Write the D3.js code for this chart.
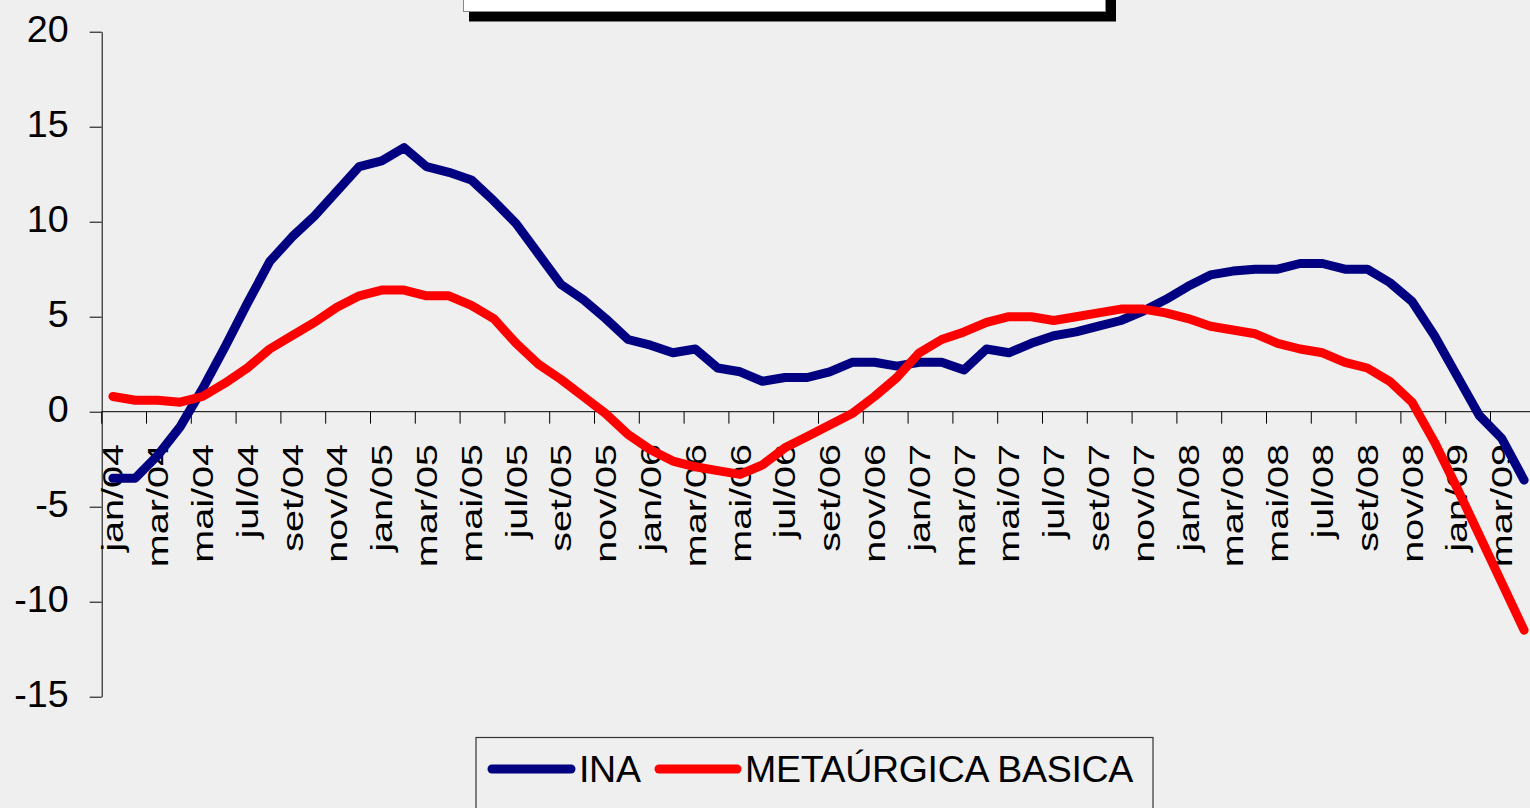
<!DOCTYPE html>
<html>
<head>
<meta charset="utf-8">
<script src="https://cdn.jsdelivr.net/npm/d3@7"></script>
<style>
  html, body { margin: 0; padding: 0; background: #efefef; overflow: hidden; }
  svg { display: block; }
  text { font-family: Arial, "Liberation Sans", sans-serif; fill: #000; }
</style>
</head>
<body>
<svg id="chart" width="1530" height="808"></svg>
<script>
const months = ["jan","fev","mar","abr","mai","jun","jul","ago","set","out","nov","dez"];
const years = ["04","05","06","07","08","09"];
const categories = [];
years.forEach(y => months.forEach(m => { categories.push(m + "/" + y); }));
categories.splice(64); // jan/04 .. abr/09

const ina = [
  -3.5, -3.5, -2.3, -0.8, 1.2, 3.4, 5.7, 7.9, 9.2, 10.3, 11.6, 12.9,
  13.2, 13.9, 12.9, 12.6, 12.2, 11.1, 9.9, 8.3, 6.7, 5.9, 4.9, 3.8,
  3.5, 3.1, 3.3, 2.3, 2.1, 1.6, 1.8, 1.8, 2.1, 2.6, 2.6, 2.4,
  2.6, 2.6, 2.2, 3.3, 3.1, 3.6, 4.0, 4.2, 4.5, 4.8, 5.3, 5.9,
  6.6, 7.2, 7.4, 7.5, 7.5, 7.8, 7.8, 7.5, 7.5, 6.8, 5.8, 4.0,
  1.9, -0.2, -1.4, -3.6
];
const metalurgica = [
  0.8, 0.6, 0.6, 0.5, 0.8, 1.5, 2.3, 3.3, 4.0, 4.7, 5.5, 6.1,
  6.4, 6.4, 6.1, 6.1, 5.6, 4.9, 3.6, 2.5, 1.7, 0.8, -0.1, -1.2,
  -2.0, -2.6, -2.9, -3.1, -3.3, -2.8, -1.9, -1.3, -0.7, -0.1, 0.8, 1.8,
  3.1, 3.8, 4.2, 4.7, 5.0, 5.0, 4.8, 5.0, 5.2, 5.4, 5.4, 5.2,
  4.9, 4.5, 4.3, 4.1, 3.6, 3.3, 3.1, 2.6, 2.3, 1.6, 0.5, -1.6,
  -4.0, -6.5, -9.0, -11.5
];
const yTicks = [-15, -10, -5, 0, 5, 10, 15, 20];
const seriesNames = ["INA", "METAÚRGICA BASICA"];
const seriesColors = ["#000080", "#ff0000"];

const svg = d3.select("#chart");

// background
svg.append("rect").attr("x", 0).attr("y", 0).attr("width", 1530).attr("height", 808).attr("fill", "#efefef");

// title box (cut off at top)
svg.append("rect").attr("x", 469).attr("y", -20).attr("width", 647).attr("height", 41.5).attr("fill", "#000");
svg.append("rect").attr("x", 463.5).attr("y", -20).attr("width", 642).attr("height", 31.5)
  .attr("fill", "#fff").attr("stroke", "#888").attr("stroke-width", 1);

const x = d3.scaleBand().domain(categories).range([101.7, 101.7 + 64 * 22.4]).paddingInner(0).paddingOuter(0);
const y = d3.scaleLinear().domain([-15, 20]).range([696.7, 31.7]);
const cx = d => x(d) + x.bandwidth() / 2;

// y axis
const yAxis = d3.axisLeft(y).tickValues(yTicks).tickSize(12).tickSizeOuter(0).tickFormat(d => String(d));
const gy = svg.append("g").attr("transform", "translate(101.7,0)").call(yAxis);
gy.select(".domain").attr("stroke", "#000").attr("stroke-width", 1);
gy.selectAll(".tick line").attr("stroke", "#000");
gy.selectAll(".tick text")
  .attr("x", -33).attr("dy", null).attr("y", 10)
  .style("font-size", "37.7px").style("font-family", "Arial, 'Liberation Sans', sans-serif")
  .attr("fill", "#000");

// x axis line + ticks every 2 categories
const gx = svg.append("g");
gx.append("line").attr("x1", 101.7).attr("x2", 1530).attr("y1", y(0)).attr("y2", y(0))
  .attr("stroke", "#000").attr("stroke-width", 1);
const tickCats = categories.filter((d, i) => i % 2 === 0);
gx.selectAll("line.tk").data(tickCats).enter().append("line").attr("class", "tk")
  .attr("x1", d => x(d)).attr("x2", d => x(d))
  .attr("y1", y(0)).attr("y2", y(0) + 12)
  .attr("stroke", "#000").attr("stroke-width", 1);
gx.selectAll("text.lbl").data(tickCats).enter().append("text").attr("class", "lbl")
  .attr("transform", d => `translate(${cx(d) + 10.5},444) rotate(-90) scale(1.32,1)`)
  .attr("text-anchor", "end")
  .style("font-size", "30px")
  .text(d => d);

// lines
const line = d3.line().x((v, i) => cx(categories[i])).y(v => y(v));
[ina, metalurgica].forEach((s, k) => {
  svg.append("path").datum(s).attr("d", line)
    .attr("fill", "none").attr("stroke", seriesColors[k]).attr("stroke-width", 9)
    .attr("stroke-linejoin", "round").attr("stroke-linecap", "round");
});

// legend
const lg = svg.append("g");
lg.append("rect").attr("x", 476).attr("y", 737.5).attr("width", 677).attr("height", 100)
  .attr("fill", "#efefef").attr("stroke", "#333").attr("stroke-width", 1.2);
const legendItems = [
  { x1: 492, x2: 571, tx: 579, name: seriesNames[0], color: seriesColors[0] },
  { x1: 659, x2: 737, tx: 745, name: seriesNames[1], color: seriesColors[1] }
];
legendItems.forEach(it => {
  lg.append("line").attr("x1", it.x1).attr("x2", it.x2).attr("y1", 769).attr("y2", 769)
    .attr("stroke", it.color).attr("stroke-width", 9).attr("stroke-linecap", "round");
  lg.append("text").attr("x", it.tx).attr("y", 782).style("font-size", "37.5px")
    .style("letter-spacing", "-0.3px").text(it.name);
});
</script>
</body>
</html>
